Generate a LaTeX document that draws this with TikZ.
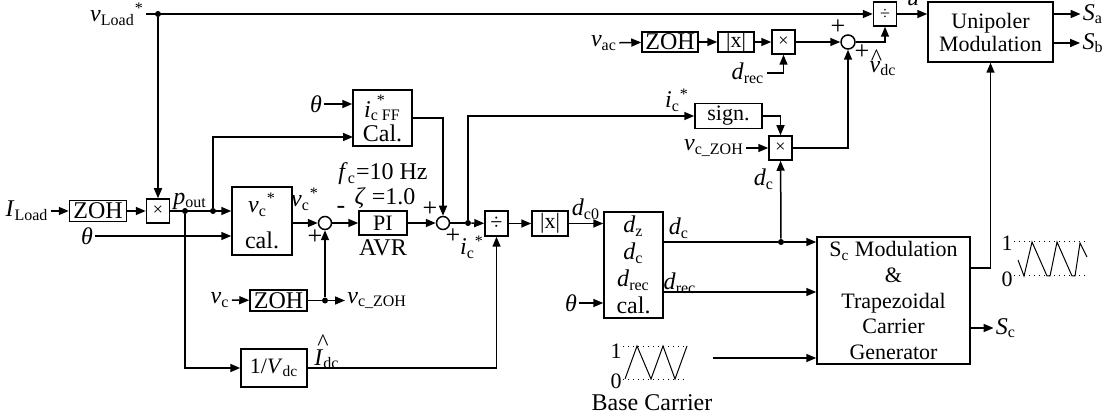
\documentclass[tikz,border=0pt]{standalone}
\usepackage{fontspec}
\setmainfont{Liberation Serif}
\usetikzlibrary{positioning,arrows.meta,calc}

\newcommand{\sub}[1]{\textsubscript{#1}}
\newcommand{\starsup}{\textsuperscript{*}}
\newcommand{\hatsym}[2]{\leavevmode\rlap{\hspace{#2}\raisebox{#1}{\^{}}}}

\begin{document}
\begin{tikzpicture}[
  x=0.5pt, y=-0.5pt,
  every node/.style={font=\fontsize{11}{13}\selectfont},
  blk/.style={draw, line width=0.75pt, inner sep=0pt, align=center},
  mulbox/.style={draw, line width=0.75pt, minimum width=11.5pt, minimum height=12pt, inner sep=0pt, font=\fontsize{9}{9}\selectfont},
  sumj/.style={circle, draw, line width=0.75pt, minimum size=6.5pt, inner sep=0pt},
  jdot/.style={circle, fill, minimum size=3pt, inner sep=0pt},
  lbl/.style={inner sep=1pt, font=\fontsize{12}{13}\selectfont},
  sgn/.style={inner sep=0pt, font=\fontsize{13}{13}\selectfont},
  sig/.style={-{Triangle[length=5pt,width=4pt]}, line width=0.75pt},
  wire/.style={line width=0.75pt},
  wave/.style={line width=0.5pt},
  grid/.style={dotted, line width=0.5pt}
]
  \useasboundingbox (0,0) rectangle (1111,416);

  % Load side
  \node[lbl] (vload) at (117,14) {\textit{v}\sub{Load}\starsup};
  \node[jdot] (vdot) at (158,14) {};
  \node[lbl] (iload) at (27,211) {\textit{I}\sub{Load}};
  \node[blk, minimum width=28.5pt, minimum height=10.5pt, font=\fontsize{12}{12}\selectfont] (zoh1) at (98,211) {ZOH};
  \node[mulbox] (mul1) at (158,211) {×};
  \node[lbl] (pout) at (190,201) {\textit{p}\sub{out}};
  \node[jdot] (pd1) at (185,211) {};
  \node[jdot] (pd2) at (213,211) {};
  \node[lbl] (th1) at (87,236) {\textit{θ}};
  \node[blk, minimum width=30pt, minimum height=34pt, font=\fontsize{12}{18}\selectfont] (vcal) at (262,221) {\textit{v}\sub{c}\starsup\\cal.};

  % Feed-forward
  \node[lbl] (th0) at (316,104) {\textit{θ}};
  \node[blk, minimum width=29.5pt, minimum height=28pt, font=\fontsize{12}{12}\selectfont] (icff) at (382.5,118) {\textit{i}\rlap{\raisebox{0.3ex}{\kern0.25em\textsuperscript{*}}}\sub{c FF}\\Cal.};
  \coordinate (ffin) at (353,137);

  % Voltage loop
  \node[sumj] (sum2) at (325,223) {};
  \node[lbl] (vcs) at (305,199) {\textit{v}\sub{c}\starsup};
  \node[sgn] at (341,210) {-};
  \node[sgn] at (315,237) {+};
  \node[blk, minimum width=24pt, minimum height=12pt] (pi) at (383,223) {PI};
  \node[lbl] at (383,174) {\textit{f}\sub{c}=10 Hz};
  \node[lbl] at (385,198) {\textit{ζ} =1.0};
  \node[lbl] at (383,248) {AVR};
  \node[lbl] (vc) at (220,300) {\textit{v}\sub{c}};
  \node[blk, minimum width=28.5pt, minimum height=10.5pt, font=\fontsize{12}{12}\selectfont] (zoh2) at (278.5,300.5) {ZOH};
  \node[jdot] (vzd) at (325,300.5) {};
  \node[lbl, anchor=west] (vczoh1) at (345,300.5) {\textit{v}\sub{c\_ZOH}};
  \node[blk, minimum width=33pt, minimum height=19pt] (vdc) at (274,368) {1/\textit{V}\sub{dc}};
  \node[lbl] at (327,352) {\hatsym{1.3ex}{0.12em}\textit{I}\sub{dc}};

  % Current reference
  \node[sumj] (sum1) at (443,223) {};
  \node[sgn] at (430,209) {+};
  \node[sgn] at (453,236) {+};
  \node[jdot] (idot) at (468,223) {};
  \node[lbl] at (472,247) {\textit{i}\sub{c}\starsup};
  \node[blk, minimum width=11.5pt, minimum height=12.5pt] (div2) at (496.5,223.5) {÷};
  \node[blk, minimum width=18pt, minimum height=12.5pt] (absx2) at (550,223.5) {|x|};
  \node[lbl] at (586,209) {\textit{d}\sub{c0}};

  % Duty calculation
  \node[blk, minimum width=29.5pt, minimum height=53pt, font=\fontsize{12}{13.5}\selectfont] (dbox) at (633.5,265) {\textit{d}\sub{z}\\\textit{d}\sub{c}\\\textit{d}\sub{rec}\\cal.};
  \node[lbl] (th2) at (571,303) {\textit{θ}};
  \coordinate (dcout) at (663,242);
  \coordinate (drout) at (663,292);
  \node[lbl] at (679,228) {\textit{d}\sub{c}};
  \node[lbl] at (680,283) {\textit{d}\sub{rec}};
  \node[jdot] (ddot) at (781,242) {};

  % Sign path
  \node[lbl] at (677,100) {\textit{i}\sub{c}\starsup};
  \node[blk, minimum width=33.5pt, minimum height=12.5pt] (sign) at (728.5,116) {sign.};
  \node[lbl] (vczoh2) at (714,148) {\textit{v}\sub{c\_ZOH}};
  \node[mulbox] (mul3) at (780.5,148) {×};
  \node[lbl] at (764,179) {\textit{d}\sub{c}};

  % dc voltage estimate
  \node[lbl] (vac) at (604,43) {\textit{v}\sub{ac}};
  \node[blk, minimum width=28pt, minimum height=10pt, font=\fontsize{12}{12}\selectfont] (zoh3) at (670,42) {ZOH};
  \node[blk, minimum width=18pt, minimum height=10pt] (absx1) at (736,42) {|x|};
  \node[mulbox] (mul2) at (783.5,42) {×};
  \node[lbl] (drec2) at (748,73) {\textit{d}\sub{rec}};
  \node[sumj, minimum size=7pt] (sum3) at (848,42) {};
  \node[sgn] at (838,27) {+};
  \node[sgn] at (862,52) {+};
  \node[lbl] at (883,63) {\hatsym{0.55ex}{0.05em}\textit{v}\sub{dc}};
  \node[mulbox] (div1) at (885,14) {÷};
  \node[lbl] at (913,0) {\textit{u}};

  % Modulators
  \node[blk, minimum width=62.5pt, minimum height=30pt, font=\fontsize{11}{11.5}\selectfont] (unip) at (990.5,32) {Unipoler\\Modulation};
  \node[lbl] (sa) at (1093,14) {\textit{S}\sub{a}};
  \node[lbl] (sb) at (1093,43) {\textit{S}\sub{b}};
  \node[blk, minimum width=76.5pt, minimum height=63.5pt, font=\fontsize{11}{12.8}\selectfont] (scmod) at (893.5,300.5) {S\sub{c} Modulation\\\&\\Trapezoidal\\Carrier\\Generator};
  \node[lbl] (sc) at (1006,328) {\textit{S}\sub{c}};
  \coordinate (scup) at (970,268);

  % Carriers
  \node[inner sep=0pt] at (1007,243) {1};
  \node[inner sep=0pt] at (1007,279) {0};
  \draw[grid] (1014,242) -- (1088,242);
  \draw[grid] (1014,276) -- (1088,276);
  \draw[wave] (1018,260) -- (1024,276) -- (1032,242) -- (1047,276) -- (1050,276) -- (1057,242) -- (1072,276) -- (1075,276) -- (1080,243) -- (1087,257);
  \node[inner sep=0pt] at (616,351) {1};
  \node[inner sep=0pt] at (616,381) {0};
  \draw[grid] (623,346) -- (686,346);
  \draw[grid] (623,379) -- (686,379);
  \draw[wave] (625,379) -- (637,346) -- (651,379) -- (663,346) -- (675,379) -- (687,346);
  \node[lbl] at (652,403) {Base Carrier};
  \coordinate (bcout) at (713,358);

  % Connections
  \draw[sig] (vload) -- (div1);
  \draw[sig] (vdot) -- (mul1);
  \draw[sig] (iload) -- (zoh1);
  \draw[sig] (zoh1) -- (mul1);
  \draw[sig] (mul1) -- (mul1 -| vcal.west);
  \draw[sig] (pd2) |- (ffin);
  \draw[sig] (th1) -- (th1 -| vcal.west);
  \draw[sig] (th0) -- (th0 -| icff.west);
  \draw[sig] (vcal.east |- sum2) -- (sum2);
  \draw[sig] (sum2) -- (pi);
  \draw[sig] (vc) -- (zoh2);
  \draw[wire] (zoh2) -- (vzd);
  \draw[sig] (vzd) -- (vczoh1);
  \draw[sig] (vzd) -- (sum2);
  \draw[sig] (pd1) |- (vdc);
  \draw[sig] (vdc) -| (div2);
  \draw[sig] (pi) -- (sum1);
  \draw[sig] (icff) -| (sum1);
  \draw[wire] (sum1) -- (idot);
  \draw[sig] (idot) -- (div2);
  \draw[sig] (idot) |- (sign);
  \draw[sig] (div2) -- (absx2);
  \draw[sig] (absx2) -- (absx2 -| dbox.west);
  \draw[sig] (th2) -- (th2 -| dbox.west);
  \draw[wire] (dcout) -- (ddot);
  \draw[sig] (ddot) -- (ddot -| scmod.west);
  \draw[sig] (ddot) -- (mul3);
  \draw[sig] (drout) -- (drout -| scmod.west);
  \draw[sig] (bcout) -- (bcout -| scmod.west);
  \draw[sig] (sign) -| (mul3);
  \draw[sig] (vczoh2) -- (mul3);
  \draw[sig] (mul3) -| (sum3);
  \draw[sig] (vac) -- (zoh3);
  \draw[sig] (zoh3) -- (absx1);
  \draw[sig] (absx1) -- (mul2);
  \draw[sig] (drec2) -| (mul2);
  \draw[sig] (mul2) -- (sum3);
  \draw[sig] (sum3) -| (div1);
  \draw[sig] (div1) -- (div1 -| unip.west);
  \draw[sig] (unip.east |- sa) -- (sa);
  \draw[sig] (unip.east |- sb) -- (sb);
  \draw[sig] (scup) -| (unip);
  \draw[sig] (scmod.east |- sc) -- (sc);
\end{tikzpicture}
\end{document}
